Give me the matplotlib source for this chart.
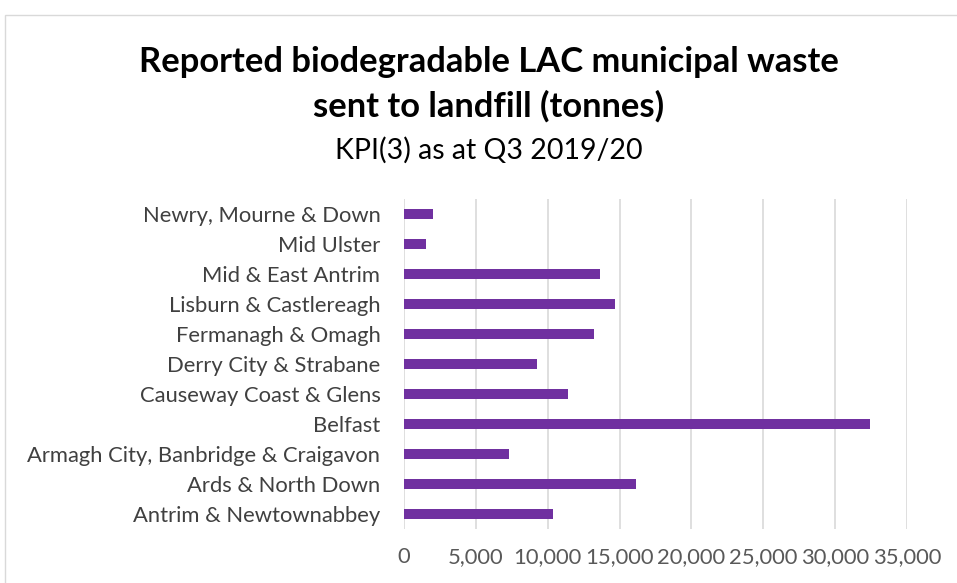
import matplotlib
matplotlib.use("Agg")
import matplotlib.pyplot as plt
from matplotlib.patches import Rectangle
from matplotlib.ticker import FuncFormatter

councils = ["Antrim & Newtownabbey", "Ards & North Down", "Armagh City, Banbridge & Craigavon",
            "Belfast", "Causeway Coast & Glens", "Derry City & Strabane", "Fermanagh & Omagh",
            "Lisburn & Castlereagh", "Mid & East Antrim", "Mid Ulster", "Newry, Mourne & Down"]
tonnes = [10360, 16160, 7300, 32430, 11400, 9230, 13190, 14700, 13630, 1530, 2020]
xticks = [0, 5000, 10000, 15000, 20000, 25000, 30000, 35000]

plt.rcParams['font.family'] = ['Lato', 'DejaVu Sans']

fig = plt.figure(figsize=(9.57, 5.83), dpi=100)
fig.patches.append(Rectangle((5/957, -0.1), 1.1, 1 - 15/583 + 0.1, transform=fig.transFigure,
                             fill=False, edgecolor='#D9D9D9', linewidth=1))
ax = fig.add_axes([404/957, 1 - 529/583, (907 - 404)/957, (529 - 199)/583])

y = range(len(councils))
ax.barh(y, tonnes, height=0.34, color='#7030A0', zorder=3)
ax.set_ylim(-0.5, len(councils) - 0.5)
ax.set_xlim(0, 35000)
ax.set_xticks(xticks)
ax.xaxis.set_major_formatter(FuncFormatter(lambda v, p: f"{int(v):,}"))
ax.set_yticks(list(y))
ax.set_yticklabels(councils)
ax.grid(axis='x', color='#D9D9D9', linewidth=1.2, zorder=0)
for s in ax.spines.values():
    s.set_visible(False)
ax.tick_params(axis='both', length=0, labelsize=15.8, colors='#595959')
ax.tick_params(axis='y', pad=17, colors='#404040')
ax.tick_params(axis='x', pad=13)

cx = 489 / 957
fig.text(cx, 1 - 62/583, "Reported biodegradable LAC municipal waste", ha='center', va='center',
         fontsize=24.8, fontweight='bold', color='black')
fig.text(cx, 1 - 106/583, "sent to landfill (tonnes)", ha='center', va='center',
         fontsize=24.8, fontweight='bold', color='black')
fig.text(cx, 1 - 150/583, "KPI(3) as at Q3 2019/20", ha='center', va='center',
         fontsize=20.5, color='black')

fig.savefig("out.png", dpi=100)
